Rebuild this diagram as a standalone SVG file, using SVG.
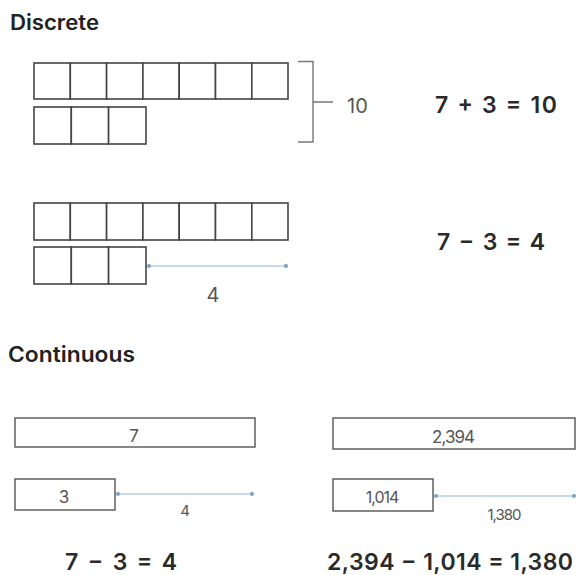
<svg xmlns="http://www.w3.org/2000/svg" width="582" height="575" viewBox="0 0 582 575">
<defs>
<style>
.title{font-family:Inter,"Open Sans","Liberation Sans",sans-serif;font-weight:600;font-size:21px;fill:#222}
.eq{font-family:Inter,"Open Sans","Liberation Sans",sans-serif;font-weight:600;font-size:23px;fill:#2a2a2a}
.lbl{font-family:Inter,"Open Sans","Liberation Sans",sans-serif;font-weight:400;fill:#555}
.cell{fill:#fff;stroke:#444;stroke-width:1.6}
.bar{fill:#fff;stroke:#555;stroke-width:1.4}
.arr{stroke:#8fb3d6;stroke-width:1.2;fill:none;marker-start:url(#dot);marker-end:url(#dot)}
.brk{stroke:#777;stroke-width:1.4;fill:none}
</style>
<marker id="dot" viewBox="0 0 6 6" refX="3" refY="3" markerWidth="5" markerHeight="5" markerUnits="userSpaceOnUse">
<circle cx="3" cy="3" r="2.5" fill="#7fa6cc"/>
</marker>
</defs>
<rect width="582" height="575" fill="#fff"/>

<text class="title" x="10" y="30" textLength="89" lengthAdjust="spacingAndGlyphs">Discrete</text>

<g id="row-7-add">
<rect class="cell" x="34" y="63" width="36.3" height="36"/>
<rect class="cell" x="70.3" y="63" width="36.3" height="36"/>
<rect class="cell" x="106.6" y="63" width="36.3" height="36"/>
<rect class="cell" x="142.9" y="63" width="36.3" height="36"/>
<rect class="cell" x="179.2" y="63" width="36.3" height="36"/>
<rect class="cell" x="215.5" y="63" width="36.3" height="36"/>
<rect class="cell" x="251.8" y="63" width="36.2" height="36"/>
</g>
<g id="row-3-add">
<rect class="cell" x="34" y="107" width="37.3" height="37"/>
<rect class="cell" x="71.3" y="107" width="37.3" height="37"/>
<rect class="cell" x="108.6" y="107" width="37.4" height="37"/>
</g>
<g id="bracket">
<path class="brk" d="M298 61.5 H313 V142 H298 M313 102 H333"/>
<text class="lbl" x="347" y="113" font-size="20" fill="#666">10</text>
</g>
<g id="eq-add"><text class="eq" x="435" y="113" textLength="122" lengthAdjust="spacing">7 + 3 = 10</text></g>

<g id="row-7-sub">
<rect class="cell" x="34" y="203" width="36.3" height="37"/>
<rect class="cell" x="70.3" y="203" width="36.3" height="37"/>
<rect class="cell" x="106.6" y="203" width="36.3" height="37"/>
<rect class="cell" x="142.9" y="203" width="36.3" height="37"/>
<rect class="cell" x="179.2" y="203" width="36.3" height="37"/>
<rect class="cell" x="215.5" y="203" width="36.3" height="37"/>
<rect class="cell" x="251.8" y="203" width="36.2" height="37"/>
</g>
<g id="row-3-sub">
<rect class="cell" x="34" y="247" width="37.3" height="37"/>
<rect class="cell" x="71.3" y="247" width="37.3" height="37"/>
<rect class="cell" x="108.6" y="247" width="37.4" height="37"/>
</g>
<g id="eq-sub"><text class="eq" x="437" y="250" textLength="108" lengthAdjust="spacing">7 − 3 = 4</text></g>

<text class="title" x="8" y="362" textLength="127" lengthAdjust="spacingAndGlyphs">Continuous</text>

<g id="bar-7"><rect class="bar" x="15" y="418" width="240" height="29"/><text class="lbl" x="134" y="442" font-size="17" text-anchor="middle">7</text></g>
<g id="bar-3"><rect class="bar" x="15" y="479" width="100" height="31"/><text class="lbl" x="64" y="503" font-size="17" text-anchor="middle">3</text></g>
<g id="bar-2394"><rect class="bar" x="333" y="418" width="242" height="31"/><text class="lbl" x="453" y="443" font-size="17" text-anchor="middle" letter-spacing="-1">2,394</text></g>
<g id="bar-1014"><rect class="bar" x="333" y="479" width="100" height="32"/><text class="lbl" x="382" y="503" font-size="16" text-anchor="middle" letter-spacing="-1">1,014</text></g>

<g id="connectors">
<line class="arr" x1="149" y1="266" x2="286" y2="266"/>
<line class="arr" x1="118" y1="494" x2="252" y2="494"/>
<line class="arr" x1="436" y1="496" x2="574" y2="496"/>
</g>
<text class="lbl" x="213" y="302" font-size="20" text-anchor="middle" fill="#444">4</text>
<text class="lbl" x="185" y="516" font-size="15" text-anchor="middle">4</text>
<text class="lbl" x="504" y="520" font-size="15" text-anchor="middle" letter-spacing="-1">1,380</text>

<g id="eq-c1"><text class="eq" x="65" y="570" textLength="112" lengthAdjust="spacing">7 − 3 = 4</text></g>
<g id="eq-c2"><text class="eq" x="327" y="570" textLength="246" lengthAdjust="spacing">2,394 − 1,014 = 1,380</text></g>
</svg>
